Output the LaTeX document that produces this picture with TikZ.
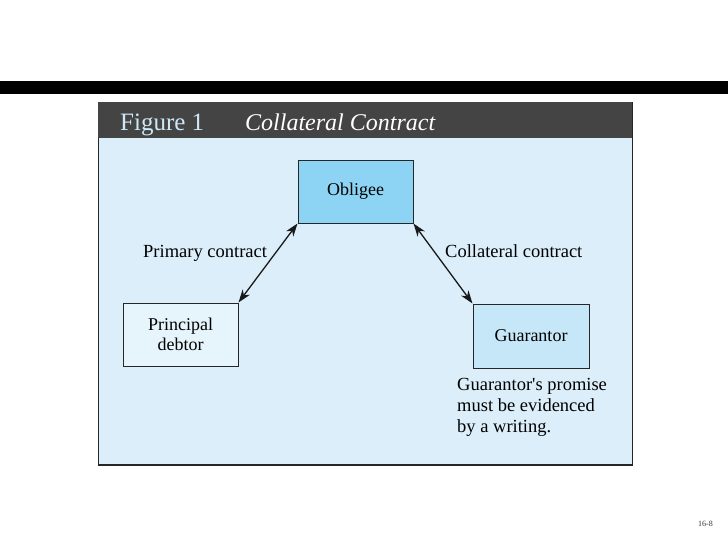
\documentclass[tikz,border=0pt]{standalone}
\usepackage{fontspec}
\setmainfont{Liberation Serif}[Ligatures=TeXOff]
\usetikzlibrary{arrows.meta}
\definecolor{bodyblue}{HTML}{DCEEFA}
\definecolor{oblblue}{HTML}{8DD4F4}
\definecolor{guablue}{HTML}{C6E7F8}
\definecolor{prinblue}{HTML}{E6F4FC}
\definecolor{titlegray}{HTML}{444444}
\definecolor{figblue}{HTML}{CFE8F6}
\tikzset{
  box/.style={draw=black!85, line width=1pt, minimum width=115pt, minimum height=63pt, inner sep=0pt, align=center, font=\fontsize{18}{21}\selectfont},
  lbl/.style={inner sep=0pt, font=\fontsize{18.5}{21}\selectfont},
  dbl/.style={{Stealth[length=13pt,width=9pt,inset=4pt]}-{Stealth[length=13pt,width=9pt,inset=4pt]}, line width=1.3pt, black!90}
}
\begin{document}
\begin{tikzpicture}[x=1pt,y=-1pt]
\useasboundingbox (0,0) rectangle (728,546);
\fill[white] (0,0) rectangle (728,546);
% black bar
\fill[black] (0,81) rectangle (728,94);
% panel
\fill[titlegray] (98,102) rectangle (633,138);
\fill[bodyblue] (98,138) rectangle (633,465);
\draw[black!85, line width=1.4pt] (98.5,138) -- (98.5,465) -- (632.5,465) -- (632.5,102);
\node[anchor=base west, inner sep=0pt, text=figblue, font=\fontsize{25}{28}\selectfont] (fig) at (120,130) {Figure 1};
\node[anchor=base west, inner sep=0pt, text=white, font=\fontsize{24}{28}\selectfont\itshape] (ttl) at (245,130) {Collateral Contract};
% boxes
\node[box, fill=oblblue] (obl) at (355.5,191.5) {Obligee};
\node[box, fill=prinblue, font=\fontsize{18}{20}\selectfont] (prin) at (180.5,334.5) {Principal\\debtor};
\node[box, fill=guablue, minimum width=116pt, minimum height=64pt] (gua) at (531,336) {Guarantor};
% arrows
\draw[dbl] (obl.south west) -- (prin.north east);
\draw[dbl] (obl.south east) -- (gua.north west);
% labels
\node[lbl, anchor=base west] (pc) at (143,257) {Primary contract};
\node[lbl, anchor=base west] (cc) at (445,257) {Collateral contract};
\node[lbl, anchor=north west, align=left, font=\fontsize{18.5}{21}\selectfont] (note) at (457,378) {Guarantor's promise\\must be evidenced\\by a writing.};
\node[anchor=base west, inner sep=0pt, font=\fontsize{8}{9}\selectfont, text=black!80] (pg) at (698,526) {16-8};
\end{tikzpicture}
\end{document}
